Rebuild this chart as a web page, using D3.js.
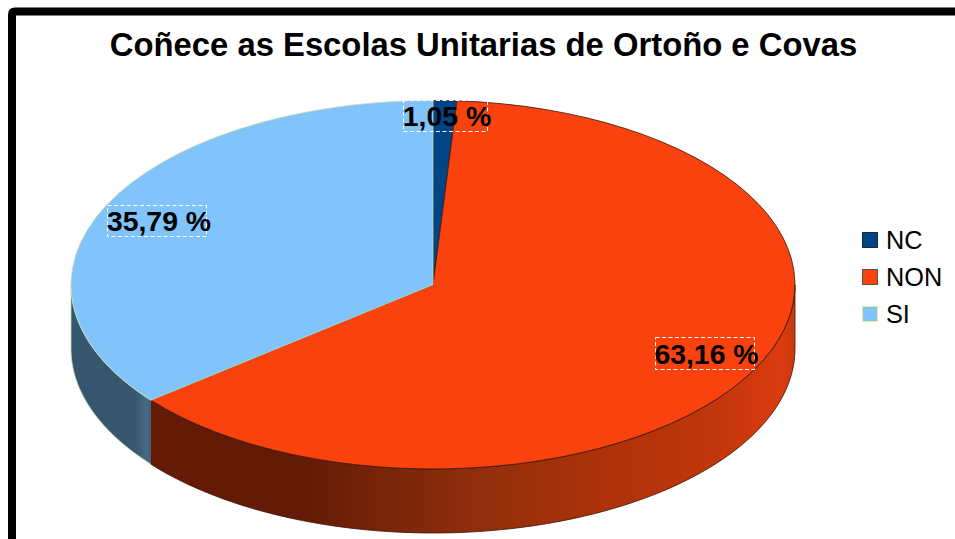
<!DOCTYPE html>
<html><head><meta charset="utf-8">
<script src="https://cdn.jsdelivr.net/npm/d3@7"></script>
<style>html,body{margin:0;padding:0;background:#fff}svg{display:block}text{font-family:"Liberation Sans",Arial,sans-serif}</style>
</head><body><div id="c"></div>
<script>
const categories = ["NC","NON","SI"];
const values = [1.05,63.16,35.79];
const labels = ["1,05 %","63,16 %","35,79 %"];
const colors = ["#004586","#f9420d","#80c4fb"];
const edgeColors = ["#1c2a3a","#3a1408","#c8dca8"];
const titleText = "Coñece as Escolas Unitarias de Ortoño e Covas";
const W=955,H=539, cx=433, cy=284.7, rx=362, ry=184.3, depth=64;
const svg=d3.select("#c").append("svg").attr("width",W).attr("height",H);
const defs=svg.append("defs");
const grad=(id,x1,x2,stops)=>{const g=defs.append("linearGradient").attr("id",id).attr("gradientUnits","userSpaceOnUse").attr("x1",x1).attr("x2",x2).attr("y1",0).attr("y2",0);
 stops.forEach(s=>g.append("stop").attr("offset",s[0]).attr("stop-color",s[1]));};
grad("gNon",151,795,[[0,"#651a05"],[0.23,"#621b05"],[0.5,"#8f2e0b"],[0.7,"#ad320a"],[0.88,"#c2360b"],[0.98,"#db3c0f"],[1,"#c8380c"]]);
grad("gSi",71,151,[[0,"#36566f"],[0.8,"#38576f"],[0.94,"#466985"],[1,"#3f5f78"]]);
grad("gNc",433,457,[[0,"#00264a"],[1,"#00264a"]]);

// outer frame
svg.append("path").attr("d",`M12,${H+10} V14.5 Q12,11.5 15,11.5 H${W+10}`).attr("fill","none").attr("stroke","#000").attr("stroke-width",8);

const pie=d3.pie().sort(null).value(d=>d)(values);
const X=d3.scaleLinear().domain([-1,1]).range([cx-rx,cx+rx]);
const Y=d3.scaleLinear().domain([-1,1]).range([cy-ry,cy+ry]);
const pt=a=>[X(Math.sin(a)),Y(-Math.cos(a))];
const arcGen=d3.arc().innerRadius(0).outerRadius(1);

// side walls (only the front half, angles π/2..3π/2); drawn in reverse so the NON seam stays dark
function wall(a0,a1){
  const s=Math.max(a0,Math.PI/2), e=Math.min(a1,3*Math.PI/2);
  if(e<=s) return null;
  const n=80, angs=d3.range(n+1).map(i=>s+(e-s)*i/n);
  const top=angs.map(pt), bot=angs.map(pt).reverse().map(p=>[p[0],p[1]+depth]);
  return d3.line()(top.concat(bot))+"Z";
}
const wallFill=["url(#gNc)","url(#gNon)","url(#gSi)"];
[2,1,0].forEach(i=>{const p=pie[i];const d=wall(p.startAngle,p.endAngle); if(d) svg.append("path").attr("d",d).attr("fill",wallFill[i]).attr("stroke",edgeColors[i]).attr("stroke-width",0.8);});

// top faces
pie.forEach((p,i)=>{
  svg.append("path").attr("d",arcGen(p)).attr("transform",`translate(${cx},${cy}) scale(${rx},${ry})`)
   .attr("fill",colors[i]).attr("stroke",edgeColors[i]).attr("stroke-width",0.8).attr("vector-effect","non-scaling-stroke");
});

// title
svg.append("text").attr("x",483.5).attr("y",56).attr("text-anchor","middle").attr("font-size",32.8).attr("font-weight","bold").attr("fill","#000").text(titleText);

// data labels
const labelPos=[[447,125.5],[706.5,364],[159,231]];
const boxes=[[403,100,84,31],[655,337,99,32],[107,205,99,31]];
labels.forEach((t,i)=>{
  const b=boxes[i];
  svg.append("rect").attr("x",b[0]+.5).attr("y",b[1]+.5).attr("width",b[2]).attr("height",b[3]).attr("fill","none").attr("stroke","#fff").attr("stroke-width",1).attr("stroke-dasharray","4,2.5");
  svg.append("text").attr("x",labelPos[i][0]).attr("y",labelPos[i][1]).attr("text-anchor","middle").attr("font-size",28.4).attr("font-weight","bold").attr("fill","#000").text(t);
});

// legend
const ly=d3.scalePoint().domain(categories).range([240,314]);
const lineC=["#1c2a3a","#555","#e4ee9a"];
categories.forEach((c,i)=>{
  svg.append("rect").attr("x",862.5).attr("y",ly(c)-7.5).attr("width",15).attr("height",15).attr("fill",colors[i]).attr("stroke",lineC[i]).attr("stroke-width",1);
  svg.append("text").attr("x",886).attr("y",ly(c)+8.5).attr("font-size",25.3).attr("fill","#000").text(c);
});
</script></body></html>
